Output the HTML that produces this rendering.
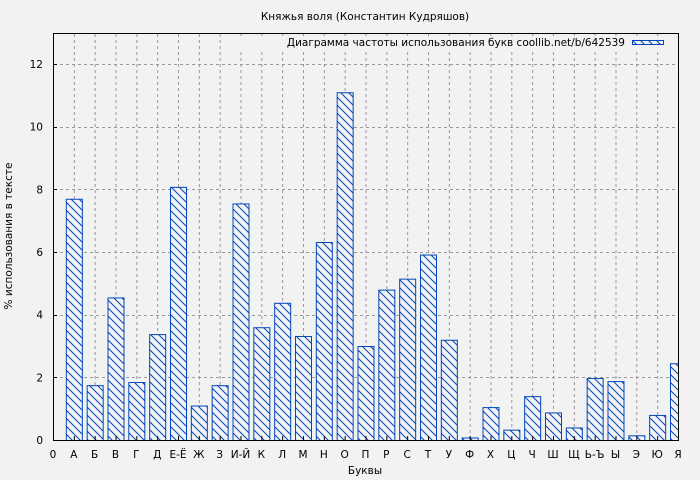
<!DOCTYPE html><html><head><meta charset="utf-8"><style>body{margin:0;background:#f2f2f2}svg{display:block;font-family:"DejaVu Sans","Liberation Sans",sans-serif}</style></head><body>
<svg width="700" height="480" viewBox="0 0 700 480" xmlns="http://www.w3.org/2000/svg">
<defs><pattern id="h" patternUnits="userSpaceOnUse" width="8" height="8"><rect width="8" height="8" fill="#f2f2f2"/><path d="M-1,-1 L9,9 M-1,7 L1,9 M7,-1 L9,1" stroke="#0047bb" stroke-width="1"/></pattern>
<clipPath id="c"><rect x="53" y="33" width="625" height="407"/></clipPath></defs>
<rect width="700" height="480" fill="#f2f2f2"/>
<text x="365" y="20" font-size="10.5" text-anchor="middle">Княжья воля (Константин Кудряшов)</text>
<g id="grid" stroke="#999" stroke-dasharray="3,3" stroke-width="1"></g>
<g id="bars" clip-path="url(#c)"></g>
<rect x="53.5" y="33.5" width="625" height="407" fill="none" stroke="#000"/>
<g id="ax" font-size="11"></g>
<rect x="240" y="36" width="432" height="14" fill="#f2f2f2"/>
<text x="625" y="46" font-size="10.5" text-anchor="end">Диаграмма частоты использования букв coollib.net/b/642539</text>
<rect x="632.5" y="40.5" width="31" height="4" fill="url(#h)" stroke="#0047bb"/>
<text x="365" y="474" font-size="10.5" text-anchor="middle">Буквы</text>
<text transform="translate(12,236) rotate(-90)" font-size="10.5" text-anchor="middle">% использования в тексте</text>
</svg>
<script>
var L=["0","А","Б","В","Г","Д","Е-Ё","Ж","З","И-Й","К","Л","М","Н","О","П","Р","С","Т","У","Ф","Х","Ц","Ч","Ш","Щ","Ь-Ъ","Ы","Э","Ю","Я"];
var V=[0,7.7,1.75,4.55,1.85,3.38,8.08,1.1,1.75,7.55,3.6,4.38,3.32,6.32,11.1,3.0,4.8,5.15,5.92,3.2,0.08,1.05,0.33,1.4,0.88,0.4,1.98,1.88,0.15,0.8,2.45];
var ns="http://www.w3.org/2000/svg",g=document.getElementById("grid"),b=document.getElementById("bars"),a=document.getElementById("ax");
function el(p,t,o,tx){var e=document.createElementNS(ns,t);for(var k in o)e.setAttribute(k,o[k]);if(tx!==undefined)e.textContent=String(tx);p.appendChild(e);return e;}
var s=31.33,st=20.833;
for(var i=0;i<=30;i++){var x=53+i*st;if(i>0&&i<30)el(g,"line",{x1:x+.5,y1:34,x2:x+.5,y2:440});
el(a,"line",{x1:x+.5,y1:440,x2:x+.5,y2:436,stroke:"#000"});
el(a,"text",{x:x,y:458,"text-anchor":"middle","font-size":"10.5"},L[i]);
if(i>0){var h=V[i]*s;el(b,"rect",{x:x-8+.5,y:440-h+.5,width:16,height:h,fill:"url(#h)",stroke:"#0047bb"});}}
for(var j=0;j<=12;j+=2){var y=440-j*s;if(j>0)el(g,"line",{x1:54,y1:Math.round(y)+.5,x2:678,y2:Math.round(y)+.5});
el(a,"line",{x1:53,y1:Math.round(y)+.5,x2:57,y2:Math.round(y)+.5,stroke:"#000"});
el(a,"text",{x:43,y:y+4,"text-anchor":"end","font-size":"10.5"},j);}
</script>
</body></html>
